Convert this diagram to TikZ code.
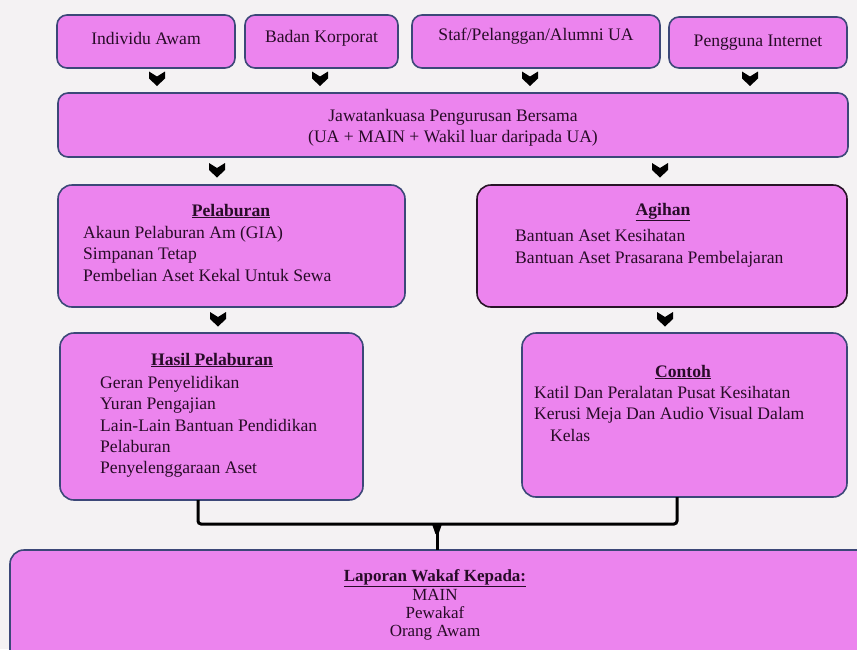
\documentclass[tikz,border=0pt]{standalone}
\usepackage{fontspec}
\setmainfont{Liberation Serif}
\usetikzlibrary{calc}
\definecolor{bgc}{RGB}{244,242,243}
\definecolor{boxfill}{RGB}{236,132,238}
\definecolor{boxline}{RGB}{60,72,120}
\definecolor{boxdark}{RGB}{40,20,40}
\definecolor{txt}{RGB}{40,12,40}
\tikzset{
  box/.style={draw=boxline, line width=1.6pt, fill=boxfill, rounded corners=14pt, inner sep=0pt, outer sep=0pt},
  sbox/.style={box, rounded corners=10pt},
  lbl/.style={text=txt, inner sep=0pt, font=\fontsize{17.6}{20.5}\selectfont},
  body/.style={lbl, align=left, anchor=north west, font=\fontsize{17.6}{21.3}\selectfont},
  ttl/.style={lbl, font=\fontsize{17.6}{20}\selectfont\bfseries},
  chev/.pic={\fill[black] (-8,-7) -- (0,-2) -- (8,-7) -- (8,0) -- (0,7.5) -- (-8,0) -- cycle;},
  bracket/.style={draw=black, line width=3pt, rounded corners=3pt}
}
\begin{document}
\begin{tikzpicture}[x=1pt,y=-1pt]
\fill[bgc] (0,0) rectangle (857,649);
\useasboundingbox (0,0) rectangle (857,649);
\begin{scope}
\clip (0,0) rectangle (857,649);
% top row
\node[sbox, minimum width=178, minimum height=53] (ia) at (146,41.5) {};
\node[sbox, minimum width=153, minimum height=53] (bk) at (321.5,41.5) {};
\node[sbox, minimum width=248, minimum height=53] (st) at (536,41.5) {};
\node[sbox, minimum width=178, minimum height=51] (pi) at (758,42.5) {};
\node[lbl] at (146,38) {Individu Awam};
\node[lbl] at (321.5,38) {Badan Korporat};
\node[lbl] at (536,36) {Staf/Pelanggan/Alumni UA};
\node[lbl] at (758,43) {Pengguna Internet};
% committee
\node[sbox, minimum width=790, minimum height=64] (jk) at (453,125) {};
\node[lbl, align=center] at (453,128) {Jawatankuasa Pengurusan Bersama\\(UA + MAIN + Wakil luar daripada UA)};
% chevrons top
\pic at (157,78.5) {chev};
\pic at (320,78.5) {chev};
\pic at (530,78.5) {chev};
\pic at (750,78.5) {chev};
% second row
\node[box, minimum width=347, minimum height=122] (pl) at (231.5,246) {};
\node[box, draw=boxdark, minimum width=370, minimum height=122] (ag) at (662,246) {};
\pic at (217,170) {chev};
\pic at (660,170) {chev};
\node[ttl] at (231,211) {\underline{Pelaburan}};
\node[body] at (83,226) {Akaun Pelaburan Am (GIA)\\Simpanan Tetap\\Pembelian Aset Kekal Untuk Sewa};
\node[ttl] at (663,212) {\underline{Agihan}};
\node[body] at (515,229.5) {Bantuan Aset Kesihatan\\Bantuan Aset Prasarana Pembelajaran};
% third row
\pic at (218,319) {chev};
\pic at (665,319) {chev};
\node[box, minimum width=303, minimum height=167] (hp) at (211.5,416.5) {};
\node[box, minimum width=325, minimum height=164] (ct) at (684.5,415) {};
\node[ttl] at (212,360) {\underline{Hasil Pelaburan}};
\node[body] at (100,376) {Geran Penyelidikan\\Yuran Pengajian\\Lain-Lain Bantuan Pendidikan\\Pelaburan\\Penyelenggaraan Aset};
\node[ttl] at (683,372) {\underline{Contoh}};
\node[body] at (534,386) {Katil Dan Peralatan Pusat Kesihatan\\Kerusi Meja Dan Audio Visual Dalam\\\hspace*{16pt}Kelas};
% bottom
\node[box, minimum width=870, minimum height=130] (lw) at (445,615) {};
\node[lbl, font=\fontsize{17}{18}\selectfont\bfseries] at (435,578) {\underline{Laporan Wakaf Kepada:}};
\node[lbl, align=center, font=\fontsize{17}{18}\selectfont] (lwt) at (435,614.5) {MAIN\\Pewakaf\\Orang Awam};
% bracket
\coordinate (mid) at (437,524);
\draw[bracket] (hp.south -| 198,0) -- (198,524) -- (677,524) -- (ct.south -| 677,0);
\draw[black, line width=3pt] (mid) -- (mid |- lw.north);
\fill[black] ($(mid)+(-5,0)$) -- ($(mid)+(5,0)$) -- ($(mid)+(1.5,10)$) -- ($(mid)+(-1.5,10)$) -- cycle;
\end{scope}
\end{tikzpicture}
\end{document}
